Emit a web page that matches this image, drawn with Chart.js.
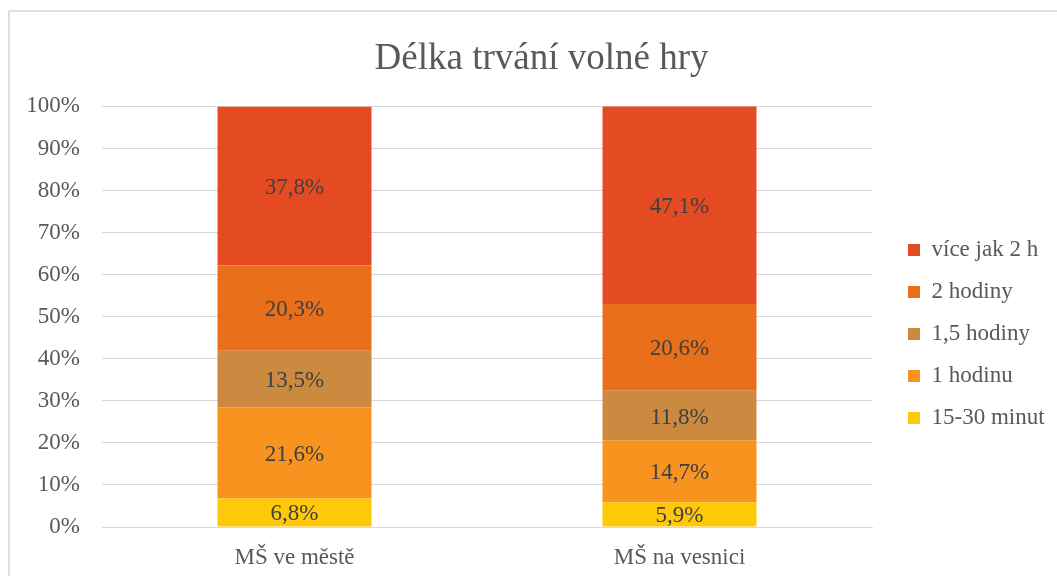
<!DOCTYPE html>
<html><head><meta charset="utf-8">
<script src="https://cdn.jsdelivr.net/npm/chart.js@4"></script>
<style>
html,body{margin:0;padding:0;background:#fff;overflow:hidden;}
#wrap{position:absolute;left:8px;top:10px;width:1070px;height:600px;border:2px solid #dedede;box-sizing:border-box;}
#box{position:absolute;left:0;top:0;width:1057px;height:576px;}
</style></head>
<body>
<div id="wrap"></div>
<div id="box"><canvas id="c"></canvas></div>
<script>
const categories = ['MŠ ve městě', 'MŠ na vesnici'];
const seriesNames = ['15-30 minut', '1 hodinu', '1,5 hodiny', '2 hodiny', 'více jak 2 h'];
const s15_30 = [6.8, 5.9];
const s1h = [21.6, 14.7];
const s15h = [13.5, 11.8];
const s2h = [20.3, 20.6];
const sMore = [37.8, 47.1];
const yTicks = [0,10,20,30,40,50,60,70,80,90,100];
const colors = ['#FFC90A', '#F7931E', '#CC8A40', '#EA6F1A', '#E54B23'];
const seriesValues = [s15_30, s1h, s15h, s2h, sMore];

const FONT = "'Liberation Serif', 'Times New Roman', serif";

const labelPlugin = {
  id: 'barLabels',
  afterDatasetsDraw(chart) {
    const ctx = chart.ctx;
    ctx.save();
    ctx.font = '23px ' + FONT;
    ctx.fillStyle = '#404040';
    ctx.textAlign = 'center';
    ctx.textBaseline = 'middle';
    chart.data.datasets.forEach((ds, i) => {
      const meta = chart.getDatasetMeta(i);
      meta.data.forEach((el, j) => {
        const v = ds.data[j];
        const yc = (el.y + el.base) / 2;
        ctx.fillText(v.toFixed(1).replace('.', ',') + '%', el.x, yc + 2);
      });
    });
    ctx.restore();
  }
};

const legendPlace = {
  id: 'legendPlace',
  afterInit(chart) {
    const lg = chart.legend;
    const orig = lg.fit.bind(lg);
    lg.fit = function() { orig(); this.width = 185; };
  },
  afterLayout(chart) {
    const lg = chart.legend;
    lg.left += 17; lg.right += 17;
    lg.top += 46; lg.bottom += 46;
    const t = chart.titleBlock;
    if (t) { t.left += 13; t.right += 13; t.top += 2; t.bottom += 2; }
  }
};

new Chart(document.getElementById('c'), {
  type: 'bar',
  data: {
    labels: categories,
    datasets: seriesNames.map((n, i) => ({
      label: n,
      data: seriesValues[i],
      backgroundColor: colors[i],
      borderWidth: 0,
      barPercentage: 0.4,
      categoryPercentage: 1.0
    }))
  },
  options: {
    responsive: true,
    maintainAspectRatio: false,
    animation: false,
    layout: { padding: { left: 0, right: 0, top: 0, bottom: 0 } },
    plugins: {
      title: {
        display: true,
        text: 'Délka trvání volné hry',
        color: '#595959',
        font: { family: FONT, size: 37, weight: 'normal' },
        padding: { top: 35, bottom: 27 }
      },
      legend: {
        position: 'right',
        reverse: true,
        labels: {
          color: '#595959',
          font: { family: FONT, size: 23 },
          boxWidth: 12,
          boxHeight: 12,
          padding: 19
        }
      },
      tooltip: { enabled: false }
    },
    scales: {
      x: {
        stacked: true,
        grid: { display: false },
        border: { display: true, color: '#d9d9d9', width: 1 },
        afterFit(axis) { axis.height = 49; },
        ticks: { color: '#595959', font: { family: FONT, size: 23 }, padding: 9 }
      },
      y: {
        stacked: true,
        min: 0, max: 100,
        afterBuildTicks(axis) { axis.ticks = yTicks.map(v => ({ value: v })); },
        afterFit(axis) { axis.width = 102; },
        grid: { color: '#d9d9d9', drawTicks: false, lineWidth: 1 },
        border: { display: false },
        ticks: {
          color: '#595959',
          font: { family: FONT, size: 23 },
          padding: 22,
          callback: v => v + '%'
        }
      }
    }
  },
  plugins: [labelPlugin, legendPlace]
});
</script>
</body></html>
